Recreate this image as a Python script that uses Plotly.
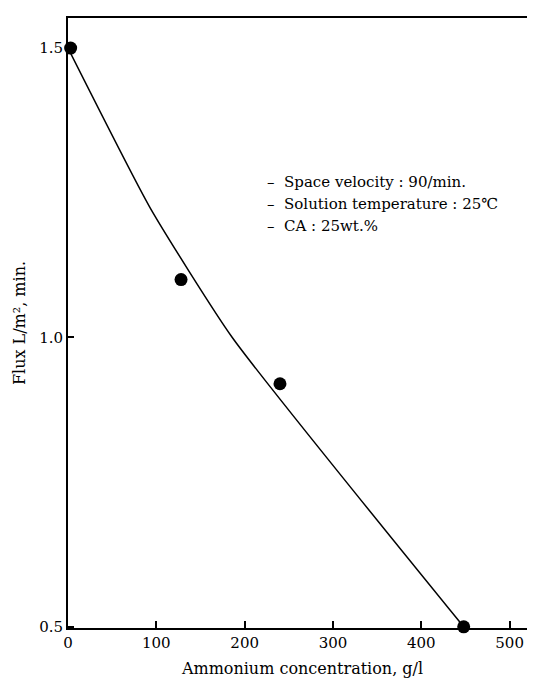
import plotly.graph_objects as go

# Measured points
conc_pts = [3, 128, 240, 448]
flux_pts = [1.50, 1.10, 0.92, 0.50]

# Fitted curve
conc_curve = [0, 93, 186, 448]
flux_curve = [1.50, 1.224, 1.000, 0.50]

x_ticks = [0, 100, 200, 300, 400, 500]
y_ticks = [0.5, 1.0, 1.5]
y_tick_text = ["0.5", "1.0", "1.5"]

notes = [
    "–  Space velocity : 90/min.",
    "–  Solution temperature : 25℃",
    "–  CA : 25wt.%",
]
note_y = [0.731, 0.695, 0.659]

font_family = "DejaVu Serif, Liberation Serif, serif"

fig = go.Figure()
fig.add_trace(go.Scatter(
    x=conc_curve, y=flux_curve, mode="lines",
    line=dict(color="black", width=1.5, shape="spline", smoothing=0.5),
    hoverinfo="skip", showlegend=False,
))
fig.add_trace(go.Scatter(
    x=conc_pts, y=flux_pts, mode="markers",
    marker=dict(color="black", size=13),
    cliponaxis=False, showlegend=False,
))

for t, yy in zip(notes, note_y):
    fig.add_annotation(
        x=0.42, y=yy, xref="paper", yref="paper",
        text=t, showarrow=False, xanchor="left", yanchor="middle",
        font=dict(family=font_family, size=15, color="black"),
    )

fig.update_layout(
    width=535, height=681,
    margin=dict(l=60, r=4, t=10, b=61),
    paper_bgcolor="white", plot_bgcolor="white",
    font=dict(family=font_family, size=15, color="black"),
    xaxis=dict(
        range=[0, 531], tickvals=x_ticks, ticks="inside", ticklen=7,
        tickwidth=1.5, tickcolor="black", showgrid=False, zeroline=False,
        showline=True, linecolor="black", linewidth=2, mirror=True,
        title=dict(text="Ammonium concentration, g/l", standoff=12,
                   font=dict(size=16)),
    ),
    yaxis=dict(
        range=[0.498, 1.552], tickvals=y_ticks, ticktext=y_tick_text,
        ticks="inside", ticklen=6, tickwidth=1.5, tickcolor="black",
        showgrid=False, zeroline=False,
        showline=True, linecolor="black", linewidth=2, mirror=True,
        title=dict(text="Flux L/m², min.", standoff=10, font=dict(size=16)),
    ),
)

fig.write_html("out.html")
